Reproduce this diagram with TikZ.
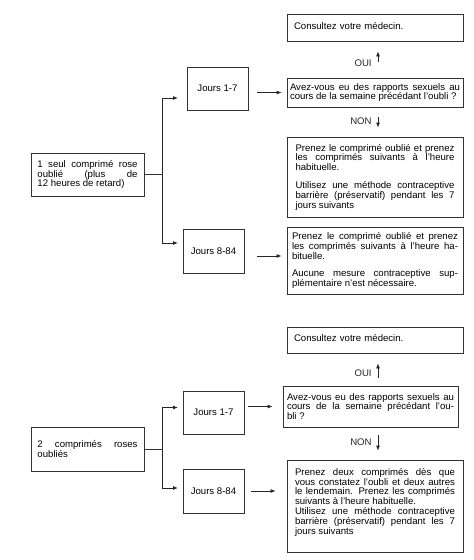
\documentclass[tikz,border=0pt]{standalone}
\usepackage{fontspec}
\setmainfont{Liberation Sans}
\usetikzlibrary{arrows.meta}

\tikzset{
    box/.style={draw=black!80, line width=0.8pt, rectangle, inner ysep=2pt, align=justify,
        font=\fontsize{9.6}{9.8}\selectfont},
    consult/.style={box, align=left, text width=162pt, inner xsep=7pt, text depth=4pt},
    jours/.style={box, align=center, minimum width=61pt, minimum height=43pt},
    arr/.style={-{Latex[length=5pt,width=4pt]}, line width=0.8pt, black!85},
    link/.style={line width=0.8pt, black!80},
    lbl/.style={font=\fontsize{9.6}{9.8}\selectfont, inner sep=1pt}
}

\begin{document}
\begin{tikzpicture}[x=1pt,y=-1pt]
    \useasboundingbox (0,0) rectangle (474,560);

    % first case: one pill
    \node[consult, minimum height=27pt] (cons1) at (375,27.5) {Consultez votre médecin.};
    \node[box, text width=170pt, inner xsep=3pt, minimum height=29pt] (avez1) at (375,92.5)
        {Avez-vous eu des rapports sexuels au\linebreak cours de la semaine précédant l'oubli ?};
    \node[box, text width=159pt, inner xsep=8.5pt, minimum height=80pt] (prenez1) at (375,177)
        {Prenez le comprimé oublié et prenez\linebreak les comprimés suivants à l'heure\linebreak habituelle.\par\vspace{8pt}
         Utilisez une méthode contraceptive\linebreak barrière (préservatif) pendant les 7\linebreak jours suivants};
    \node[box, text width=166pt, inner xsep=5pt, minimum height=67pt] (prenez2) at (375,260.5)
        {Prenez le comprimé oublié et prenez\linebreak les comprimés suivants à l'heure ha-\linebreak bituelle.\par\vspace{8pt}
         Aucune mesure contraceptive sup-\linebreak plémentaire n'est nécessaire.};
    \node[jours] (jours1) at (217.5,88.5) {Jours 1-7};
    \node[jours, minimum height=44pt] (jours2) at (213.5,251) {Jours 8-84};
    \node[box, text width=100pt, inner xsep=6.5pt, minimum height=43pt] (seul) at (87.5,174.5)
        {1 seul comprimé rose\linebreak oublié (plus de\linebreak 12 heures de retard)};

    \coordinate (split1) at (162,174.5);
    \coordinate (in1) at (178,98);
    \coordinate (in2) at (178,243);
    \draw[link] (seul.east) -- (split1);
    \draw[arr] (split1) |- (in1);
    \draw[arr] (split1) |- (in2);
    \draw[arr, shorten <=9pt, shorten >=5pt] (jours1.east |- avez1.west) -- (avez1.west);
    \draw[arr, shorten <=13pt, shorten >=5pt] ([yshift=4.5pt]jours2.east |- prenez2.west) -- ([yshift=4.5pt]prenez2.west);
    \draw[arr, shorten <=16pt, shorten >=10pt] ([xshift=3pt]avez1.north) -- ([xshift=3pt]cons1.south)
        node[lbl, pos=0.4, left=5pt] {OUI}; % yes
    \draw[arr, shorten <=10pt, shorten >=9pt] ([xshift=3pt]avez1.south) -- ([xshift=3pt]prenez1.north)
        node[lbl, pos=0.47, left=5pt] {NON}; % no

    % second case: two pills
    \node[consult, minimum height=26pt] (cons2) at (375,340) {Consultez votre médecin.};
    \node[box, text width=167pt, inner xsep=4pt, minimum height=41pt] (avez2) at (370.5,406.5)
        {Avez-vous eu des rapports sexuels au\linebreak cours de la semaine précédant l'ou-\linebreak bli ?};
    \node[box, text width=160pt, inner xsep=8pt, minimum height=92pt] (prenez3) at (375,506)
        {Prenez deux comprimés dès que\linebreak vous constatez l'oubli et deux autres\linebreak le lendemain. Prenez les comprimés\linebreak suivants à l'heure habituelle.\par
         Utilisez une méthode contraceptive\linebreak barrière (préservatif) pendant les 7\linebreak jours suivants\par\hbox{}};
    \node[jours] (jours3) at (213.5,412.5) {Jours 1-7};
    \node[jours, minimum height=44pt] (jours4) at (213.5,491) {Jours 8-84};
    \node[box, text width=100pt, inner xsep=6.5pt, minimum height=44pt] (deux) at (87.5,449)
        {2 comprimés roses\linebreak oubliés};

    \coordinate (split2) at (162,449);
    \coordinate (in3) at (178,407.5);
    \coordinate (in4) at (178,488);
    \draw[link] (deux.east) -- (split2);
    \draw[arr] (split2) |- (in3);
    \draw[arr] (split2) |- (in4);
    \draw[arr, shorten <=4pt, shorten >=10pt] (jours3.east |- avez2.west) -- (avez2.west);
    \draw[arr, shorten <=7pt, shorten >=11pt] (jours4.east) -- (jours4.east -| prenez3.west);
    \draw[arr, shorten <=8pt, shorten >=10pt] ([xshift=3pt]cons2.south |- avez2.north) -- ([xshift=3pt]cons2.south)
        node[lbl, pos=0.39, left=5pt] {OUI};
    \draw[arr, shorten <=8pt, shorten >=9pt] ([xshift=3pt]prenez3.north |- avez2.south) -- ([xshift=3pt]prenez3.north)
        node[lbl, pos=0.45, left=5pt] {NON};
\end{tikzpicture}
\end{document}
